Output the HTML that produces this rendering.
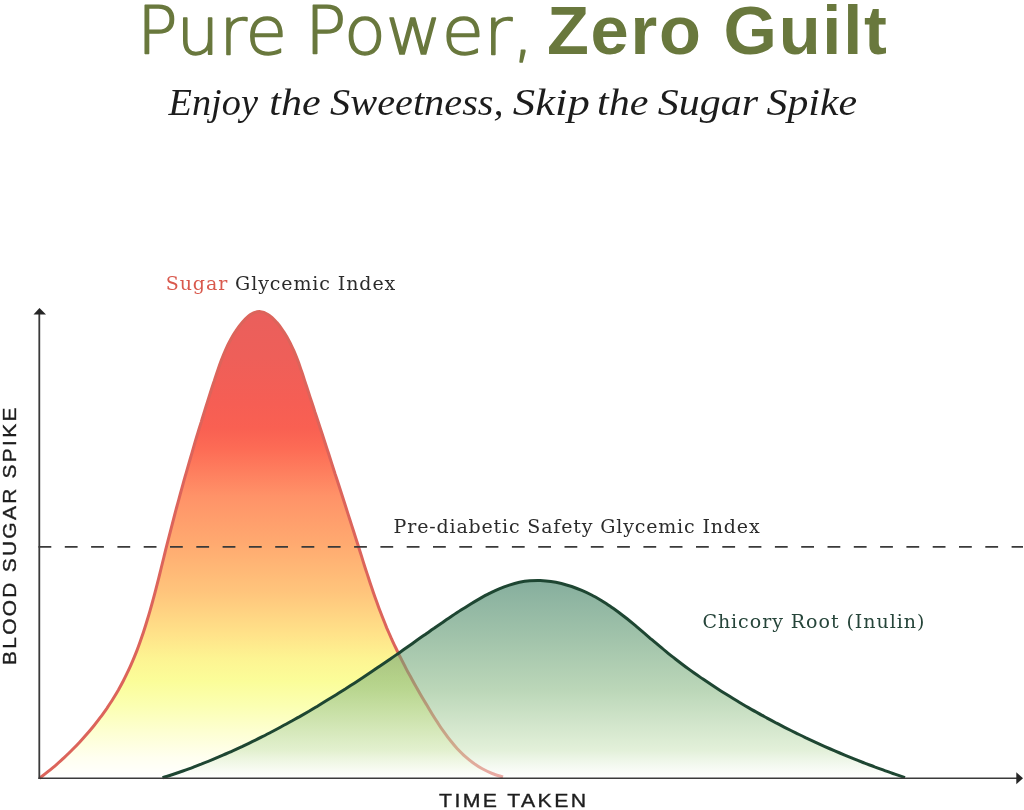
<!DOCTYPE html>
<html lang="en">
<head>
<meta charset="utf-8">
<title>Pure Power, Zero Guilt</title>
<style>
html,body{margin:0;padding:0;background:#fff;}
body{width:1024px;height:810px;position:relative;overflow:hidden;font-family:"Liberation Sans",sans-serif;}
svg{position:absolute;left:0;top:0;display:block;}
.title{font-family:"Liberation Sans",sans-serif;font-size:68.6px;fill:#69783d;}
.title.b{font-weight:bold;}
.title.lt{font-family:"DejaVu Sans Light","DejaVu Sans","Liberation Sans",sans-serif;font-size:66px;font-weight:200;stroke:#69783d;stroke-width:1.5px;stroke-linejoin:round;}
.sub{font-family:"Liberation Serif",serif;font-style:italic;font-size:38px;fill:#1c1c1c;}
.lab{font-family:"DejaVu Serif","Liberation Serif",serif;font-size:19px;fill:#2b2b2b;}
.ax{font-family:"Liberation Sans",sans-serif;font-size:19px;fill:#1e1e1e;stroke:#1e1e1e;stroke-width:0.35px;}
</style>
</head>
<body>
<svg width="1024" height="810" viewBox="0 0 1024 810">
<defs>
<linearGradient id="gr" x1="0" y1="310" x2="0" y2="778" gradientUnits="userSpaceOnUse">
<stop offset="0.000" stop-color="#ea5f5c"/>
<stop offset="0.100" stop-color="#ee5f59"/>
<stop offset="0.201" stop-color="#f65e54"/>
<stop offset="0.252" stop-color="#f96052"/>
<stop offset="0.295" stop-color="#fd6b55"/>
<stop offset="0.397" stop-color="#ff9268"/>
<stop offset="0.501" stop-color="#ffaa70"/>
<stop offset="0.604" stop-color="#ffc57c"/>
<stop offset="0.692" stop-color="#ffe289"/>
<stop offset="0.744" stop-color="#fdf492"/>
<stop offset="0.793" stop-color="#fbfd99"/>
<stop offset="0.846" stop-color="#fbffb2"/>
<stop offset="0.902" stop-color="#fdffd2"/>
<stop offset="0.957" stop-color="#fffff0"/>
<stop offset="1.000" stop-color="#ffffff"/>
</linearGradient>
<linearGradient id="gg" x1="0" y1="580" x2="0" y2="778" gradientUnits="userSpaceOnUse">
<stop offset="0.000" stop-color="#34785c" stop-opacity="0.60"/>
<stop offset="0.303" stop-color="#5f996e" stop-opacity="0.58"/>
<stop offset="0.556" stop-color="#88b883" stop-opacity="0.57"/>
<stop offset="0.859" stop-color="#cbe4ba" stop-opacity="0.55"/>
<stop offset="1.000" stop-color="#ffffff" stop-opacity="0.45"/>
</linearGradient>
</defs>
<rect width="1024" height="810" fill="#ffffff"/>
<path d="M39.5,778.3 C40.9,777.2 45.1,774.0 47.9,771.7 C50.7,769.5 53.4,767.1 56.2,764.8 C58.9,762.4 61.6,760.0 64.2,757.6 C66.8,755.1 69.4,752.6 72.0,750.0 C74.6,747.5 77.1,744.9 79.6,742.2 C82.1,739.6 84.5,736.9 86.9,734.1 C89.3,731.4 91.6,728.6 93.9,725.8 C96.2,722.9 98.4,720.1 100.5,717.2 C102.7,714.3 104.8,711.3 106.9,708.3 C108.9,705.3 110.9,702.3 112.8,699.3 C114.7,696.2 116.6,693.1 118.4,690.0 C120.1,686.9 121.9,683.7 123.5,680.5 C125.1,677.3 126.7,674.1 128.2,670.9 C129.8,667.6 131.2,664.4 132.6,661.1 C134.0,657.8 135.4,654.4 136.7,651.1 C138.0,647.8 139.2,644.4 140.4,641.0 C141.6,637.6 142.8,634.2 143.9,630.8 C145.0,627.4 146.1,623.9 147.1,620.5 C148.2,617.0 149.2,613.6 150.2,610.1 C151.2,606.6 152.2,603.1 153.1,599.6 C154.1,596.2 155.0,592.6 155.9,589.1 C156.8,585.6 157.7,582.1 158.6,578.6 C159.5,575.1 160.3,571.6 161.2,568.0 C162.1,564.5 162.9,561.0 163.8,557.5 C164.7,554.0 165.5,550.4 166.4,546.9 C167.3,543.4 168.2,539.9 169.1,536.4 C170.0,532.9 170.9,529.4 171.8,525.9 C172.7,522.4 173.6,518.9 174.5,515.5 C175.4,512.0 176.3,508.5 177.3,505.0 C178.2,501.5 179.2,498.1 180.1,494.6 C181.1,491.1 182.0,487.7 183.0,484.2 C183.9,480.7 184.9,477.3 185.9,473.8 C186.9,470.4 187.9,466.9 188.9,463.4 C189.9,460.0 190.9,456.5 191.9,453.1 C192.9,449.6 193.9,446.2 194.9,442.7 C195.9,439.3 197.0,435.8 198.0,432.4 C199.1,429.0 200.1,425.5 201.2,422.1 C202.2,418.6 203.3,415.2 204.4,411.7 C205.5,408.3 206.5,404.8 207.6,401.4 C208.7,397.9 209.8,394.5 210.9,391.0 C212.0,387.6 213.1,384.1 214.3,380.7 C215.4,377.3 216.5,373.8 217.7,370.4 C218.9,366.9 220.1,363.5 221.4,360.1 C222.7,356.7 224.0,353.3 225.5,350.0 C227.0,346.7 228.5,343.5 230.3,340.3 C232.0,337.1 233.8,333.9 235.9,330.9 C237.9,327.9 240.1,324.8 242.6,322.0 C245.0,319.3 247.6,316.4 250.5,314.6 C253.3,312.9 256.4,311.5 259.4,311.5 C262.5,311.6 265.9,313.0 268.8,314.9 C271.7,316.7 274.4,319.8 276.9,322.6 C279.4,325.4 281.5,328.6 283.6,331.6 C285.6,334.7 287.5,337.9 289.2,341.1 C290.9,344.3 292.4,347.6 293.9,350.9 C295.3,354.2 296.6,357.5 297.9,360.9 C299.2,364.3 300.3,367.7 301.5,371.1 C302.7,374.5 303.8,378.0 304.9,381.4 C306.0,384.8 307.2,388.2 308.3,391.6 C309.4,395.1 310.5,398.5 311.7,401.9 C312.8,405.3 313.9,408.8 315.0,412.2 C316.2,415.6 317.3,419.0 318.4,422.5 C319.5,425.9 320.6,429.3 321.8,432.7 C322.9,436.2 324.0,439.6 325.1,443.0 C326.2,446.4 327.3,449.9 328.5,453.3 C329.6,456.7 330.7,460.2 331.8,463.6 C332.9,467.0 334.0,470.4 335.1,473.9 C336.3,477.3 337.4,480.7 338.5,484.2 C339.6,487.6 340.7,491.0 341.8,494.5 C342.9,497.9 344.0,501.3 345.1,504.8 C346.2,508.2 347.3,511.6 348.4,515.1 C349.5,518.5 350.6,522.0 351.7,525.4 C352.8,528.8 353.9,532.3 355.0,535.7 C356.1,539.2 357.2,542.6 358.3,546.0 C359.4,549.5 360.5,552.9 361.6,556.4 C362.6,559.8 363.7,563.3 364.8,566.7 C365.9,570.2 367.1,573.6 368.2,577.0 C369.3,580.5 370.4,583.9 371.6,587.3 C372.8,590.7 373.9,594.1 375.1,597.5 C376.3,600.9 377.6,604.3 378.8,607.7 C380.1,611.1 381.4,614.4 382.7,617.8 C384.0,621.1 385.4,624.5 386.7,627.8 C388.1,631.1 389.6,634.4 391.0,637.7 C392.5,640.9 394.0,644.2 395.6,647.5 C397.1,650.7 398.7,653.9 400.3,657.2 C401.9,660.4 403.5,663.6 405.2,666.8 C406.8,670.0 408.5,673.2 410.3,676.3 C412.0,679.5 413.7,682.7 415.5,685.8 C417.3,689.0 419.1,692.1 420.9,695.3 C422.7,698.4 424.6,701.5 426.5,704.6 C428.3,707.8 430.2,710.9 432.1,714.0 C434.0,717.1 436.0,720.2 438.0,723.2 C439.9,726.3 442.0,729.3 444.1,732.2 C446.2,735.2 448.3,738.1 450.6,740.8 C452.8,743.6 455.1,746.3 457.5,748.9 C460.0,751.5 462.4,754.0 465.1,756.4 C467.7,758.7 470.4,761.0 473.3,763.0 C476.2,765.1 479.1,767.1 482.3,768.8 C485.4,770.5 488.7,772.1 492.2,773.5 C495.6,774.9 501.2,776.4 503.0,777.0 Z" fill="url(#gr)"/>
<path d="M39.5,778.3 C40.9,777.2 45.1,774.0 47.9,771.7 C50.7,769.5 53.4,767.1 56.2,764.8 C58.9,762.4 61.6,760.0 64.2,757.6 C66.8,755.1 69.4,752.6 72.0,750.0 C74.6,747.5 77.1,744.9 79.6,742.2 C82.1,739.6 84.5,736.9 86.9,734.1 C89.3,731.4 91.6,728.6 93.9,725.8 C96.2,722.9 98.4,720.1 100.5,717.2 C102.7,714.3 104.8,711.3 106.9,708.3 C108.9,705.3 110.9,702.3 112.8,699.3 C114.7,696.2 116.6,693.1 118.4,690.0 C120.1,686.9 121.9,683.7 123.5,680.5 C125.1,677.3 126.7,674.1 128.2,670.9 C129.8,667.6 131.2,664.4 132.6,661.1 C134.0,657.8 135.4,654.4 136.7,651.1 C138.0,647.8 139.2,644.4 140.4,641.0 C141.6,637.6 142.8,634.2 143.9,630.8 C145.0,627.4 146.1,623.9 147.1,620.5 C148.2,617.0 149.2,613.6 150.2,610.1 C151.2,606.6 152.2,603.1 153.1,599.6 C154.1,596.2 155.0,592.6 155.9,589.1 C156.8,585.6 157.7,582.1 158.6,578.6 C159.5,575.1 160.3,571.6 161.2,568.0 C162.1,564.5 162.9,561.0 163.8,557.5 C164.7,554.0 165.5,550.4 166.4,546.9 C167.3,543.4 168.2,539.9 169.1,536.4 C170.0,532.9 170.9,529.4 171.8,525.9 C172.7,522.4 173.6,518.9 174.5,515.5 C175.4,512.0 176.3,508.5 177.3,505.0 C178.2,501.5 179.2,498.1 180.1,494.6 C181.1,491.1 182.0,487.7 183.0,484.2 C183.9,480.7 184.9,477.3 185.9,473.8 C186.9,470.4 187.9,466.9 188.9,463.4 C189.9,460.0 190.9,456.5 191.9,453.1 C192.9,449.6 193.9,446.2 194.9,442.7 C195.9,439.3 197.0,435.8 198.0,432.4 C199.1,429.0 200.1,425.5 201.2,422.1 C202.2,418.6 203.3,415.2 204.4,411.7 C205.5,408.3 206.5,404.8 207.6,401.4 C208.7,397.9 209.8,394.5 210.9,391.0 C212.0,387.6 213.1,384.1 214.3,380.7 C215.4,377.3 216.5,373.8 217.7,370.4 C218.9,366.9 220.1,363.5 221.4,360.1 C222.7,356.7 224.0,353.3 225.5,350.0 C227.0,346.7 228.5,343.5 230.3,340.3 C232.0,337.1 233.8,333.9 235.9,330.9 C237.9,327.9 240.1,324.8 242.6,322.0 C245.0,319.3 247.6,316.4 250.5,314.6 C253.3,312.9 256.4,311.5 259.4,311.5 C262.5,311.6 265.9,313.0 268.8,314.9 C271.7,316.7 274.4,319.8 276.9,322.6 C279.4,325.4 281.5,328.6 283.6,331.6 C285.6,334.7 287.5,337.9 289.2,341.1 C290.9,344.3 292.4,347.6 293.9,350.9 C295.3,354.2 296.6,357.5 297.9,360.9 C299.2,364.3 300.3,367.7 301.5,371.1 C302.7,374.5 303.8,378.0 304.9,381.4 C306.0,384.8 307.2,388.2 308.3,391.6 C309.4,395.1 310.5,398.5 311.7,401.9 C312.8,405.3 313.9,408.8 315.0,412.2 C316.2,415.6 317.3,419.0 318.4,422.5 C319.5,425.9 320.6,429.3 321.8,432.7 C322.9,436.2 324.0,439.6 325.1,443.0 C326.2,446.4 327.3,449.9 328.5,453.3 C329.6,456.7 330.7,460.2 331.8,463.6 C332.9,467.0 334.0,470.4 335.1,473.9 C336.3,477.3 337.4,480.7 338.5,484.2 C339.6,487.6 340.7,491.0 341.8,494.5 C342.9,497.9 344.0,501.3 345.1,504.8 C346.2,508.2 347.3,511.6 348.4,515.1 C349.5,518.5 350.6,522.0 351.7,525.4 C352.8,528.8 353.9,532.3 355.0,535.7 C356.1,539.2 357.2,542.6 358.3,546.0 C359.4,549.5 360.5,552.9 361.6,556.4 C362.6,559.8 363.7,563.3 364.8,566.7 C365.9,570.2 367.1,573.6 368.2,577.0 C369.3,580.5 370.4,583.9 371.6,587.3 C372.8,590.7 373.9,594.1 375.1,597.5 C376.3,600.9 377.6,604.3 378.8,607.7 C380.1,611.1 381.4,614.4 382.7,617.8 C384.0,621.1 385.4,624.5 386.7,627.8 C388.1,631.1 389.6,634.4 391.0,637.7 C392.5,640.9 394.0,644.2 395.6,647.5 C397.1,650.7 398.7,653.9 400.3,657.2 C401.9,660.4 403.5,663.6 405.2,666.8 C406.8,670.0 408.5,673.2 410.3,676.3 C412.0,679.5 413.7,682.7 415.5,685.8 C417.3,689.0 419.1,692.1 420.9,695.3 C422.7,698.4 424.6,701.5 426.5,704.6 C428.3,707.8 430.2,710.9 432.1,714.0 C434.0,717.1 436.0,720.2 438.0,723.2 C439.9,726.3 442.0,729.3 444.1,732.2 C446.2,735.2 448.3,738.1 450.6,740.8 C452.8,743.6 455.1,746.3 457.5,748.9 C460.0,751.5 462.4,754.0 465.1,756.4 C467.7,758.7 470.4,761.0 473.3,763.0 C476.2,765.1 479.1,767.1 482.3,768.8 C485.4,770.5 488.7,772.1 492.2,773.5 C495.6,774.9 501.2,776.4 503.0,777.0" fill="none" stroke="#dc645b" stroke-width="3" stroke-linecap="butt"/>
<path d="M162.5,777.8 C164.2,777.2 169.3,775.6 172.7,774.5 C176.1,773.3 179.5,772.2 182.9,771.0 C186.3,769.8 189.7,768.6 193.0,767.3 C196.4,766.0 199.7,764.8 203.0,763.4 C206.4,762.1 209.7,760.8 213.0,759.4 C216.3,758.0 219.6,756.6 222.9,755.2 C226.2,753.8 229.5,752.3 232.7,750.9 C236.0,749.4 239.2,747.9 242.5,746.4 C245.7,744.8 248.9,743.3 252.2,741.7 C255.4,740.2 258.6,738.6 261.8,736.9 C265.0,735.3 268.2,733.7 271.4,732.0 C274.5,730.4 277.7,728.7 280.8,727.0 C284.0,725.3 287.2,723.6 290.3,721.8 C293.4,720.1 296.5,718.3 299.7,716.6 C302.8,714.8 305.9,713.0 309.0,711.2 C312.1,709.4 315.2,707.5 318.2,705.7 C321.3,703.9 324.4,702.0 327.4,700.1 C330.5,698.2 333.5,696.4 336.6,694.5 C339.6,692.6 342.6,690.6 345.7,688.7 C348.7,686.8 351.7,684.8 354.7,682.9 C357.7,680.9 360.7,679.0 363.7,677.0 C366.7,675.0 369.6,673.0 372.6,671.0 C375.6,669.1 378.5,667.0 381.5,665.0 C384.4,663.0 387.4,661.0 390.3,659.0 C393.2,656.9 396.2,654.9 399.1,652.9 C402.0,650.8 404.9,648.8 407.8,646.7 C410.7,644.7 413.6,642.6 416.5,640.6 C419.4,638.5 422.3,636.5 425.3,634.4 C428.2,632.4 431.1,630.3 434.1,628.3 C437.0,626.2 439.9,624.2 442.9,622.2 C445.9,620.1 448.9,618.1 451.9,616.1 C454.9,614.1 457.9,612.1 461.0,610.1 C464.1,608.2 467.2,606.2 470.3,604.3 C473.4,602.3 476.6,600.4 479.8,598.6 C483.0,596.8 486.2,595.0 489.4,593.4 C492.7,591.8 495.9,590.2 499.2,588.8 C502.6,587.4 505.9,586.2 509.3,585.1 C512.6,584.0 516.0,583.0 519.4,582.3 C522.9,581.6 526.3,581.1 529.8,580.8 C533.3,580.5 536.8,580.4 540.3,580.5 C543.8,580.7 547.4,581.0 550.9,581.5 C554.4,582.0 557.9,582.7 561.4,583.5 C564.9,584.4 568.3,585.4 571.7,586.5 C575.1,587.7 578.5,589.0 581.8,590.4 C585.1,591.8 588.4,593.3 591.6,595.0 C594.7,596.6 597.8,598.4 600.9,600.2 C603.9,602.1 606.9,604.0 609.9,606.0 C612.8,608.0 615.7,610.1 618.6,612.2 C621.5,614.4 624.3,616.6 627.1,618.8 C629.9,621.1 632.7,623.4 635.5,625.7 C638.2,628.0 641.0,630.3 643.7,632.7 C646.5,635.0 649.2,637.4 651.9,639.7 C654.7,642.0 657.4,644.4 660.2,646.7 C662.9,649.0 665.7,651.3 668.5,653.6 C671.3,655.8 674.1,658.0 677.0,660.2 C679.8,662.4 682.7,664.6 685.5,666.7 C688.4,668.8 691.3,670.9 694.2,673.0 C697.1,675.1 700.1,677.1 703.0,679.1 C706.0,681.1 708.9,683.1 711.9,685.1 C714.9,687.0 717.9,689.0 720.9,690.9 C723.9,692.8 727.0,694.7 730.0,696.6 C733.0,698.5 736.1,700.3 739.2,702.2 C742.2,704.0 745.3,705.8 748.4,707.6 C751.5,709.4 754.6,711.2 757.7,712.9 C760.8,714.7 764.0,716.4 767.1,718.1 C770.3,719.8 773.4,721.5 776.6,723.2 C779.8,724.8 782.9,726.5 786.1,728.1 C789.3,729.7 792.5,731.3 795.7,732.9 C799.0,734.5 802.2,736.0 805.4,737.6 C808.6,739.1 811.9,740.6 815.1,742.1 C818.4,743.6 821.7,745.1 824.9,746.6 C828.2,748.0 831.5,749.5 834.8,750.9 C838.1,752.3 841.4,753.7 844.7,755.1 C848.0,756.4 851.3,757.8 854.6,759.1 C857.9,760.5 861.3,761.8 864.6,763.1 C867.9,764.4 871.3,765.6 874.6,766.9 C878.0,768.1 881.4,769.4 884.7,770.6 C888.1,771.8 891.5,773.0 894.8,774.1 C898.2,775.3 903.3,777.0 905.0,777.6 Z" fill="url(#gg)"/>
<path d="M162.5,777.8 C164.2,777.2 169.3,775.6 172.7,774.5 C176.1,773.3 179.5,772.2 182.9,771.0 C186.3,769.8 189.7,768.6 193.0,767.3 C196.4,766.0 199.7,764.8 203.0,763.4 C206.4,762.1 209.7,760.8 213.0,759.4 C216.3,758.0 219.6,756.6 222.9,755.2 C226.2,753.8 229.5,752.3 232.7,750.9 C236.0,749.4 239.2,747.9 242.5,746.4 C245.7,744.8 248.9,743.3 252.2,741.7 C255.4,740.2 258.6,738.6 261.8,736.9 C265.0,735.3 268.2,733.7 271.4,732.0 C274.5,730.4 277.7,728.7 280.8,727.0 C284.0,725.3 287.2,723.6 290.3,721.8 C293.4,720.1 296.5,718.3 299.7,716.6 C302.8,714.8 305.9,713.0 309.0,711.2 C312.1,709.4 315.2,707.5 318.2,705.7 C321.3,703.9 324.4,702.0 327.4,700.1 C330.5,698.2 333.5,696.4 336.6,694.5 C339.6,692.6 342.6,690.6 345.7,688.7 C348.7,686.8 351.7,684.8 354.7,682.9 C357.7,680.9 360.7,679.0 363.7,677.0 C366.7,675.0 369.6,673.0 372.6,671.0 C375.6,669.1 378.5,667.0 381.5,665.0 C384.4,663.0 387.4,661.0 390.3,659.0 C393.2,656.9 396.2,654.9 399.1,652.9 C402.0,650.8 404.9,648.8 407.8,646.7 C410.7,644.7 413.6,642.6 416.5,640.6 C419.4,638.5 422.3,636.5 425.3,634.4 C428.2,632.4 431.1,630.3 434.1,628.3 C437.0,626.2 439.9,624.2 442.9,622.2 C445.9,620.1 448.9,618.1 451.9,616.1 C454.9,614.1 457.9,612.1 461.0,610.1 C464.1,608.2 467.2,606.2 470.3,604.3 C473.4,602.3 476.6,600.4 479.8,598.6 C483.0,596.8 486.2,595.0 489.4,593.4 C492.7,591.8 495.9,590.2 499.2,588.8 C502.6,587.4 505.9,586.2 509.3,585.1 C512.6,584.0 516.0,583.0 519.4,582.3 C522.9,581.6 526.3,581.1 529.8,580.8 C533.3,580.5 536.8,580.4 540.3,580.5 C543.8,580.7 547.4,581.0 550.9,581.5 C554.4,582.0 557.9,582.7 561.4,583.5 C564.9,584.4 568.3,585.4 571.7,586.5 C575.1,587.7 578.5,589.0 581.8,590.4 C585.1,591.8 588.4,593.3 591.6,595.0 C594.7,596.6 597.8,598.4 600.9,600.2 C603.9,602.1 606.9,604.0 609.9,606.0 C612.8,608.0 615.7,610.1 618.6,612.2 C621.5,614.4 624.3,616.6 627.1,618.8 C629.9,621.1 632.7,623.4 635.5,625.7 C638.2,628.0 641.0,630.3 643.7,632.7 C646.5,635.0 649.2,637.4 651.9,639.7 C654.7,642.0 657.4,644.4 660.2,646.7 C662.9,649.0 665.7,651.3 668.5,653.6 C671.3,655.8 674.1,658.0 677.0,660.2 C679.8,662.4 682.7,664.6 685.5,666.7 C688.4,668.8 691.3,670.9 694.2,673.0 C697.1,675.1 700.1,677.1 703.0,679.1 C706.0,681.1 708.9,683.1 711.9,685.1 C714.9,687.0 717.9,689.0 720.9,690.9 C723.9,692.8 727.0,694.7 730.0,696.6 C733.0,698.5 736.1,700.3 739.2,702.2 C742.2,704.0 745.3,705.8 748.4,707.6 C751.5,709.4 754.6,711.2 757.7,712.9 C760.8,714.7 764.0,716.4 767.1,718.1 C770.3,719.8 773.4,721.5 776.6,723.2 C779.8,724.8 782.9,726.5 786.1,728.1 C789.3,729.7 792.5,731.3 795.7,732.9 C799.0,734.5 802.2,736.0 805.4,737.6 C808.6,739.1 811.9,740.6 815.1,742.1 C818.4,743.6 821.7,745.1 824.9,746.6 C828.2,748.0 831.5,749.5 834.8,750.9 C838.1,752.3 841.4,753.7 844.7,755.1 C848.0,756.4 851.3,757.8 854.6,759.1 C857.9,760.5 861.3,761.8 864.6,763.1 C867.9,764.4 871.3,765.6 874.6,766.9 C878.0,768.1 881.4,769.4 884.7,770.6 C888.1,771.8 891.5,773.0 894.8,774.1 C898.2,775.3 903.3,777.0 905.0,777.6" fill="none" stroke="#1e4632" stroke-width="3" stroke-linecap="butt"/>
<line x1="38.5" y1="546.8" x2="1023" y2="546.8" stroke="#3a3a3a" stroke-width="1.8" stroke-dasharray="12.8 13.5"/>
<line x1="39.3" y1="313" x2="39.3" y2="779" stroke="#3a3a3a" stroke-width="1.8"/>
<line x1="38.4" y1="778.3" x2="1018" y2="778.3" stroke="#3a3a3a" stroke-width="1.4"/>
<polygon points="39.5,308 46,314.6 33.5,314.6" fill="#262626"/>
<polygon points="1023,778.2 1016.3,772.2 1016.3,784.2" fill="#262626"/>
<text class="title lt" y="54"><tspan x="137" textLength="150" lengthAdjust="spacingAndGlyphs">Pure</tspan> <tspan x="305" textLength="229" lengthAdjust="spacingAndGlyphs">Power,</tspan></text>
<text class="title b" x="546.9" y="54" textLength="340" lengthAdjust="spacing">Zero Guilt</text>
<text class="sub" y="115.1"><tspan x="168.6" textLength="89.3" lengthAdjust="spacingAndGlyphs">Enjoy</tspan> <tspan x="269.3" textLength="51.3" lengthAdjust="spacingAndGlyphs">the</tspan> <tspan x="330.1" textLength="173.5" lengthAdjust="spacingAndGlyphs">Sweetness,</tspan> <tspan x="512.8" textLength="77.0" lengthAdjust="spacingAndGlyphs">Skip</tspan> <tspan x="597.0" textLength="51.4" lengthAdjust="spacingAndGlyphs">the</tspan> <tspan x="657.8" textLength="100.2" lengthAdjust="spacingAndGlyphs">Sugar</tspan> <tspan x="766.6" textLength="90.4" lengthAdjust="spacingAndGlyphs">Spike</tspan></text>
<text class="lab" x="165.8" y="289.8" textLength="229.5" lengthAdjust="spacing"><tspan fill="#d9594d">Sugar</tspan> Glycemic Index</text>
<text class="lab" x="393.6" y="533" textLength="366" lengthAdjust="spacing">Pre-diabetic Safety Glycemic Index</text>
<text class="lab" x="702.4" y="627.5" textLength="222" lengthAdjust="spacing" style="fill:#26453a">Chicory Root (Inulin)</text>
<text class="ax" transform="translate(439.1,807) scale(1.12,1)" x="0" y="0" textLength="131.25" lengthAdjust="spacing">TIME TAKEN</text>
<text class="ax" transform="translate(16.2,665) rotate(-90) scale(1.1,1)" x="0" y="0" textLength="234" lengthAdjust="spacing">BLOOD SUGAR SPIKE</text>
</svg>
</body>
</html>
